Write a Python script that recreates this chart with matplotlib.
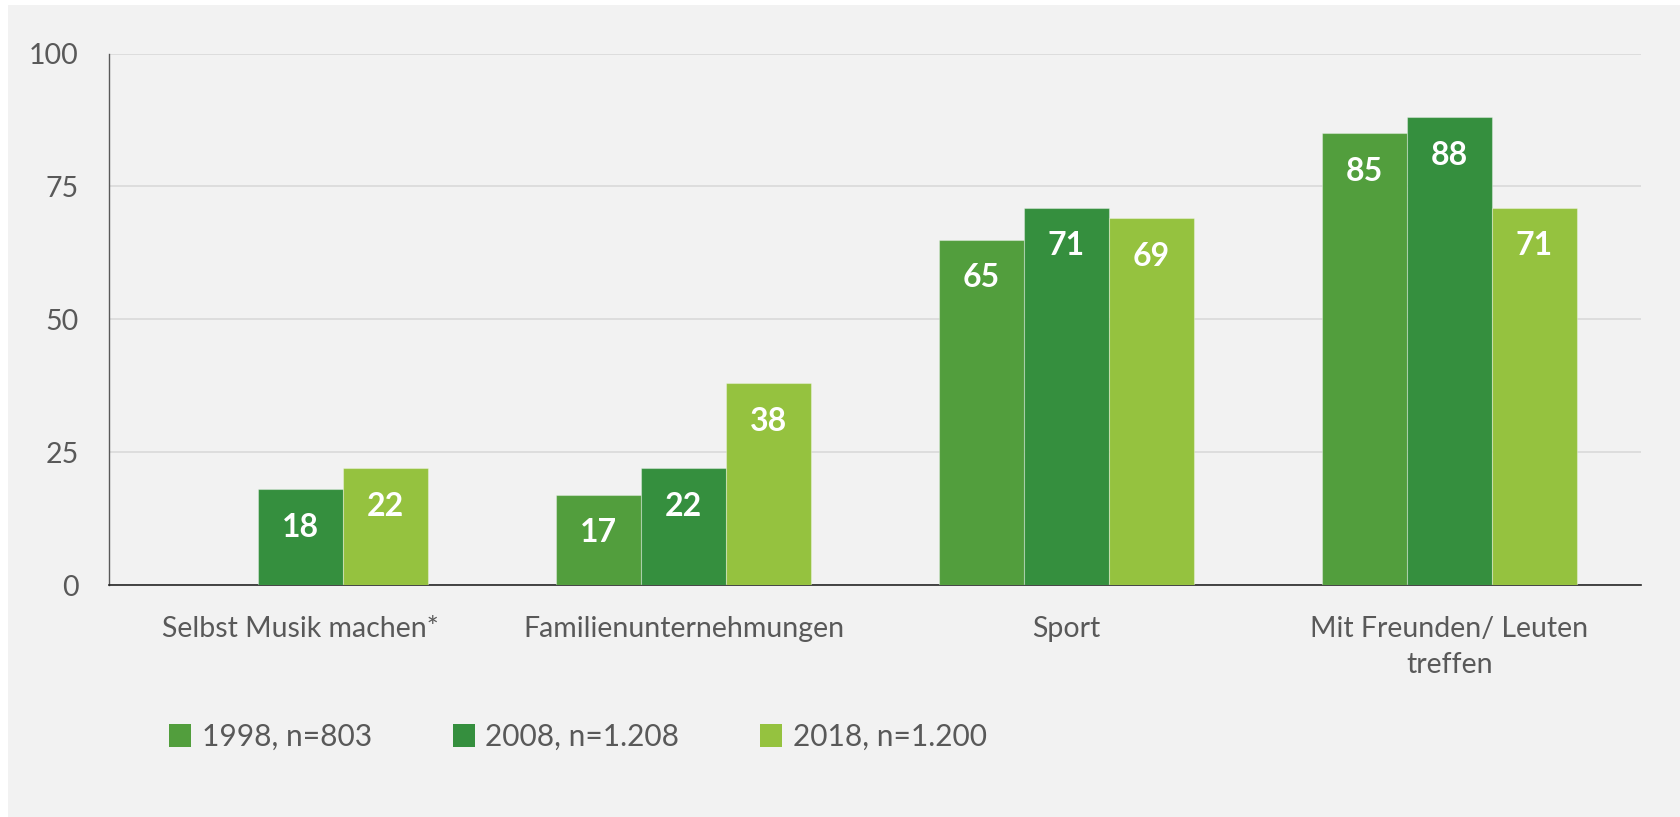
import numpy as np
import matplotlib
matplotlib.use("Agg")
import matplotlib.pyplot as plt
from matplotlib.patches import Rectangle

categories = ["Selbst Musik machen*", "Familienunternehmungen", "Sport", "Mit Freunden/ Leuten\ntreffen"]
series_names = ["1998, n=803", "2008, n=1.208", "2018, n=1.200"]
v1998 = [np.nan, 17, 65, 85]
v2008 = [18, 22, 71, 88]
v2018 = [22, 38, 69, 71]
colors = ["#529E3D", "#358F3E", "#95C23F"]
yticks = [0, 25, 50, 75, 100]

plt.rcParams['font.family'] = ['Lato', 'DejaVu Sans']
text_color = "#595959"

fig = plt.figure(figsize=(16.8, 8.17), dpi=100, facecolor="white")
fig.patches.append(Rectangle((8/1680, 0), 1, 1 - 5/817, transform=fig.transFigure,
                             facecolor="#F2F2F2", edgecolor="none", zorder=-10))
ax = fig.add_axes([109/1680, 1 - 585/817, (1641 - 109)/1680, (585 - 53.6)/817])
ax.set_facecolor("#F2F2F2")

x = np.arange(len(categories))
w = 0.2215
series = [v1998, v2008, v2018]
for i, (vals, c, name) in enumerate(zip(series, colors, series_names)):
    pos = x + (i - 1) * w
    bars = ax.bar(pos, vals, width=w, color=c, edgecolor=(1, 1, 1, 0.35), linewidth=0.8,
                  label=name, zorder=3)
    for b, v in zip(bars, vals):
        if np.isnan(v):
            continue
        ax.annotate(f"{int(v)}", (b.get_x() + b.get_width() / 2, v), xytext=(0, -27.5),
                    textcoords="offset points", ha="center", va="center",
                    color="white", fontsize=23, fontweight="bold", zorder=4)

ax.set_xlim(-0.5, 3.5)
ax.set_ylim(0, 100)
ax.set_yticks(yticks)
ax.set_yticklabels([str(t) for t in yticks])
ax.set_xticks(x)
ax.set_xticklabels(categories, linespacing=1.5)
ax.grid(axis="y", color="#D9D9D9", linewidth=1.2, zorder=0)
ax.tick_params(axis="both", length=0, colors=text_color, labelsize=20.5)
ax.tick_params(axis="y", pad=22, labelsize=20.5)
ax.tick_params(axis="x", pad=22)
for s in ["top", "right"]:
    ax.spines[s].set_visible(False)
ax.spines["left"].set_color("#595959")
ax.spines["left"].set_linewidth(1.0)
ax.spines["bottom"].set_color("#262626")
ax.spines["bottom"].set_linewidth(1.2)

leg = fig.legend(loc="center left", bbox_to_anchor=(169/1680, 1 - 737/817), ncol=3,
                 frameon=False, fontsize=21.5, handlelength=0.75, handleheight=0.8,
                 handletextpad=0.35, columnspacing=2.7, labelcolor=text_color,
                 borderaxespad=0, borderpad=0)
for h in leg.legend_handles:
    h.set_edgecolor("none")

fig.savefig("out.png", dpi=100, facecolor="white")
